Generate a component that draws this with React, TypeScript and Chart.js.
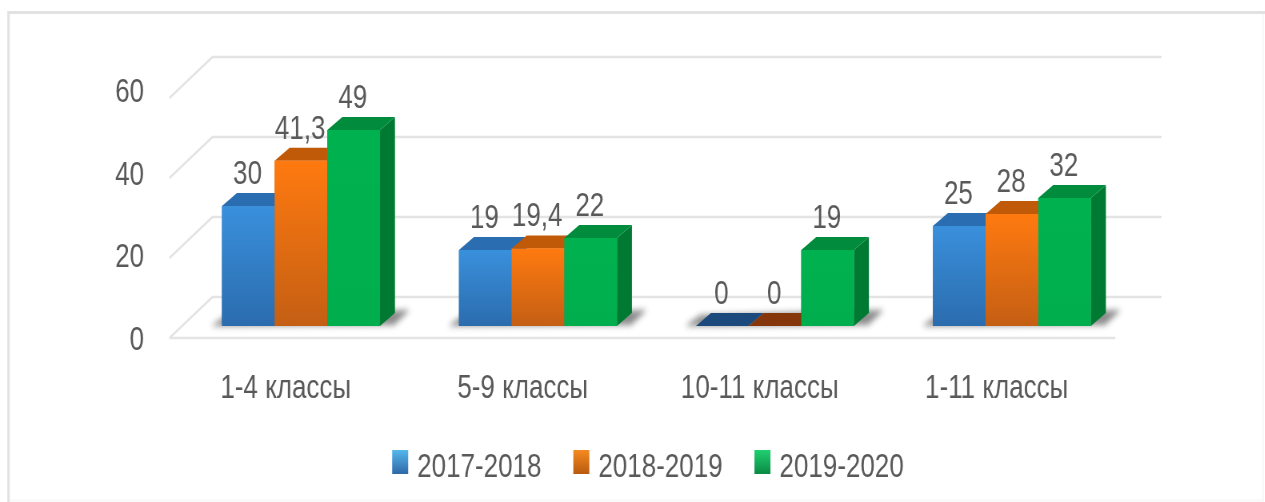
import React, { useEffect, useRef } from "react";
import { Chart, registerables } from "chart.js";

Chart.register(...registerables);

const categories = ["1-4 классы", "5-9 классы", "10-11 классы", "1-11 классы"];
const seriesNames = ["2017-2018", "2018-2019", "2019-2020"];
const values2017 = [30, 19, 0, 25];
const values2018 = [41.3, 19.4, 0, 28];
const values2019 = [49, 22, 19, 32];
const axisTicks = [0, 20, 40, 60];

// The reference type is narrow: the canvas is drawn wider and squeezed back horizontally.
const SQUEEZE = 0.8;
const K = 1 / SQUEEZE;
const CANVAS_W = 1582;

const FONT = "'Liberation Sans', sans-serif";
const FONT_SIZE = 32.5;
const TEXT = "#595959";
const GRID = "#e4e4e4";
const DX = 15 * K;
const DY = 13;

const palettes = [
  { top: "#2a6db0", zero: "#1c4a7c", side: "#1f5c96", hi: "#3a90dc", lo: "#2b6cae", sHi: "#55b8ee", sLo: "#2f68a6" },
  { top: "#c05a08", zero: "#85360a", side: "#a84e08", hi: "#ff7a10", lo: "#c45f14", sHi: "#f58a20", sLo: "#b85a10" },
  { top: "#008c3c", zero: "#006b2e", side: "#007a33", hi: "#00b24f", lo: "#00ae4e", sHi: "#20d070", sLo: "#0a8a45" },
];

const faces3d = {
  id: "faces3d",
  afterLayout(chart: any) {
    // the tick labels sit left of the (narrow) axis box; widen the box so they are not clipped
    chart.scales.y2.left = 0;
  },
  beforeDraw(chart: any) {
    const { ctx, width, height } = chart;
    ctx.save();
    ctx.strokeStyle = "#f8f8f8";
    ctx.lineWidth = 2;
    ctx.beginPath();
    ctx.moveTo(8.5 * K, height - 1.5);
    ctx.lineTo(width - 2.5 * K, height - 1.5);
    ctx.lineTo(width - 2.5 * K, 12.5);
    ctx.stroke();
    ctx.strokeStyle = "#e2e2e2";
    ctx.lineWidth = 3;
    ctx.beginPath();
    ctx.moveTo(8.5 * K, height);
    ctx.lineTo(8.5 * K, 12.5);
    ctx.lineTo(width, 12.5);
    ctx.stroke();
    ctx.restore();
  },
  beforeDatasetsDraw(chart: any) {
    const { ctx, chartArea } = chart;
    const y = chart.scales.y;
    const left = chartArea.left;
    const right = chartArea.right;
    ctx.save();
    ctx.strokeStyle = GRID;
    ctx.lineWidth = 2.5;
    axisTicks.forEach((t) => {
      const p = y.getPixelForValue(t);
      ctx.beginPath();
      ctx.moveTo(left - 13 * K, p + 12);
      ctx.lineTo(left + 30 * K, p - 29);
      ctx.lineTo(right + 31 * K, p - 29);
      ctx.stroke();
    });
    const base = y.getPixelForValue(0);
    ctx.beginPath();
    ctx.moveTo(left - 13 * K, base + 12);
    ctx.lineTo(right - 15 * K, base + 12);
    ctx.stroke();
    ctx.restore();
  },
  afterDatasetsDraw(chart: any) {
    const { ctx } = chart;
    const zeroY = chart.scales.y.getPixelForValue(0);
    ctx.save();
    const first = chart.getDatasetMeta(0).data;
    const last = chart.getDatasetMeta(2).data;
    first.forEach((b: any, i: number) => {
      const x0 = b.x - b.width / 2;
      const x1 = last[i].x + last[i].width / 2;
      ctx.save();
      ctx.filter = "blur(3px)";
      ctx.fillStyle = "rgba(110,110,110,0.8)";
      ctx.beginPath();
      ctx.moveTo(x0 - 11 * K, zeroY);
      ctx.lineTo(x0 + 5 * K, zeroY - 11);
      ctx.lineTo(x1 + 30 * K, zeroY - 16);
      ctx.lineTo(x1 + 14 * K, zeroY - 1);
      ctx.closePath();
      ctx.fill();
      ctx.restore();
    });
    [0, 1, 2].forEach((index) => {
      const pal = palettes[index];
      chart.getDatasetMeta(index).data.forEach((b: any) => {
        const l = b.x - b.width / 2;
        const r = b.x + b.width / 2;
        const isZero = Math.abs(b.y - zeroY) < 0.5;
        ctx.fillStyle = pal.side;
        ctx.beginPath();
        ctx.moveTo(r, b.y);
        ctx.lineTo(r + DX, b.y - DY);
        ctx.lineTo(r + DX, zeroY - DY);
        ctx.lineTo(r, zeroY);
        ctx.closePath();
        ctx.fill();
        ctx.fillStyle = isZero ? pal.zero : pal.top;
        ctx.beginPath();
        ctx.moveTo(l, b.y);
        ctx.lineTo(l + DX, b.y - DY);
        ctx.lineTo(r + DX, b.y - DY);
        ctx.lineTo(r, b.y);
        ctx.closePath();
        ctx.fill();
        b.draw(ctx);
      });
    });
    ctx.fillStyle = TEXT;
    ctx.font = `${FONT_SIZE}px ${FONT}`;
    ctx.textAlign = "center";
    ctx.textBaseline = "middle";
    chart.data.datasets.forEach((ds: any, di: number) => {
      chart.getDatasetMeta(di).data.forEach((b: any, i: number) => {
        ctx.fillText(String(ds.data[i]).replace(".", ","), b.x - 1, b.y - DY - 18);
      });
    });
    chart.legend.legendHitBoxes.forEach((h: any, i: number) => {
      const pal = palettes[i];
      const g = ctx.createLinearGradient(0, 450, 0, 474);
      g.addColorStop(0, pal.sHi);
      g.addColorStop(1, pal.sLo);
      ctx.fillStyle = g;
      ctx.fillRect(h.left, 450, 16 * K, 24);
    });
    ctx.restore();
  },
};

function frontFill(index: number) {
  return (c: any) => {
    const { chart, dataIndex, dataset } = c;
    if (!chart.chartArea || dataIndex === undefined) return palettes[index].hi;
    const y = chart.scales.y;
    const g = chart.ctx.createLinearGradient(0, y.getPixelForValue(dataset.data[dataIndex]), 0, y.getPixelForValue(0));
    g.addColorStop(0, palettes[index].hi);
    g.addColorStop(1, palettes[index].lo);
    return g;
  };
}

export default function App() {
  const ref = useRef<HTMLCanvasElement>(null);
  useEffect(() => {
    const all = [values2017, values2018, values2019];
    const chart = new Chart(ref.current as HTMLCanvasElement, {
      type: "bar",
      data: {
        labels: categories,
        datasets: all.map((data, i) => ({
          label: seriesNames[i],
          data,
          yAxisID: "y",
          backgroundColor: frontFill(i),
          categoryPercentage: 2 / 3,
          barPercentage: 1,
        })),
      },
      options: {
        responsive: false,
        animation: false,
        layout: { padding: { top: 90, right: 169, bottom: 8, left: 207 } },
        plugins: {
          tooltip: { enabled: false },
          legend: {
            position: "bottom",
            labels: {
              boxWidth: 15,
              boxHeight: 16,
              padding: 39.75,
              color: TEXT,
              font: { family: FONT, size: FONT_SIZE },
              generateLabels: () =>
                seriesNames.map((text, i) => ({
                  text,
                  datasetIndex: i,
                  fillStyle: "transparent",
                  strokeStyle: "transparent",
                  lineWidth: 0,
                  fontColor: TEXT,
                })),
            },
          },
        },
        scales: {
          x: {
            grid: { display: false },
            border: { display: false },
            ticks: {
              color: TEXT,
              font: { family: FONT, size: FONT_SIZE },
              padding: 23,
              labelOffset: -19,
              maxRotation: 0,
            },
            afterFit: (s: any) => {
              s.height = 72.75;
            },
          },
          y: { display: false, position: "left", min: -3.25, max: 59 },
          y2: {
            position: "left",
            min: 0.5,
            max: 60.7,
            grid: { display: false },
            border: { display: false },
            afterBuildTicks: (s: any) => {
              s.ticks = axisTicks.map((value) => ({ value }));
            },
            ticks: { color: TEXT, font: { family: FONT, size: FONT_SIZE }, padding: 40 },
            afterFit: (s: any) => {
              s.width = 21.1;
            },
          },
        },
      },
      plugins: [faces3d],
    } as any);
    return () => chart.destroy();
  }, []);
  return (
    <div style={{ position: "fixed", left: 0, top: 0, width: 1265, height: 502, background: "#fff", overflow: "hidden" }}>
      <canvas
        ref={ref}
        width={CANVAS_W}
        height={502}
        style={{ display: "block", transform: `scaleX(${SQUEEZE})`, transformOrigin: "0 0", filter: "blur(0.6px)" }}
      />
    </div>
  );
}
